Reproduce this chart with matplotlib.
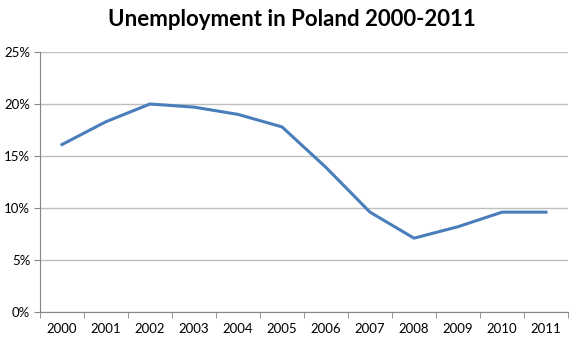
import numpy as np
import matplotlib.pyplot as plt
from matplotlib.ticker import FuncFormatter

years = ["2000", "2001", "2002", "2003", "2004", "2005",
         "2006", "2007", "2008", "2009", "2010", "2011"]
rate = [16.1, 18.3, 20.0, 19.7, 19.0, 17.8, 13.9, 9.6, 7.1, 8.2, 9.6, 9.6]

plt.rcParams["font.family"] = ["Lato", "DejaVu Sans"]

fig = plt.figure(figsize=(5.78, 3.43), dpi=100)
ax = fig.add_axes([40 / 578, 1 - 312 / 343, 528 / 578, 260 / 343])

x = np.arange(len(years))
ax.plot(x, rate, color="#4a7ebb", lw=2.2, solid_joinstyle="round")

ax.set_xlim(-0.5, len(years) - 0.5)
ax.set_ylim(0, 25)
ax.set_yticks(np.arange(0, 26, 5))
ax.yaxis.set_major_formatter(FuncFormatter(lambda v, p: f"{v:.0f}%"))
ax.grid(axis="y", color="#bfbfbf", lw=1)
ax.set_axisbelow(True)

ax.set_xticks(x)
ax.set_xticklabels(years)
ax.set_xticks(np.arange(-0.5, len(years)), minor=True)
ax.tick_params(axis="x", which="major", length=0, pad=8, labelsize=9.5)
ax.tick_params(axis="x", which="minor", length=4, color="#868686")
ax.tick_params(axis="y", length=4, color="#868686", labelsize=9.5, pad=3)

for s in ["top", "right"]:
    ax.spines[s].set_visible(False)
ax.spines["left"].set_color("#868686")
ax.spines["bottom"].set_color("#868686")

fig.suptitle("Unemployment in Poland 2000-2011", fontsize=16, fontweight="bold",
             x=0.505, y=0.975)

fig.savefig("out.png", dpi=100)
